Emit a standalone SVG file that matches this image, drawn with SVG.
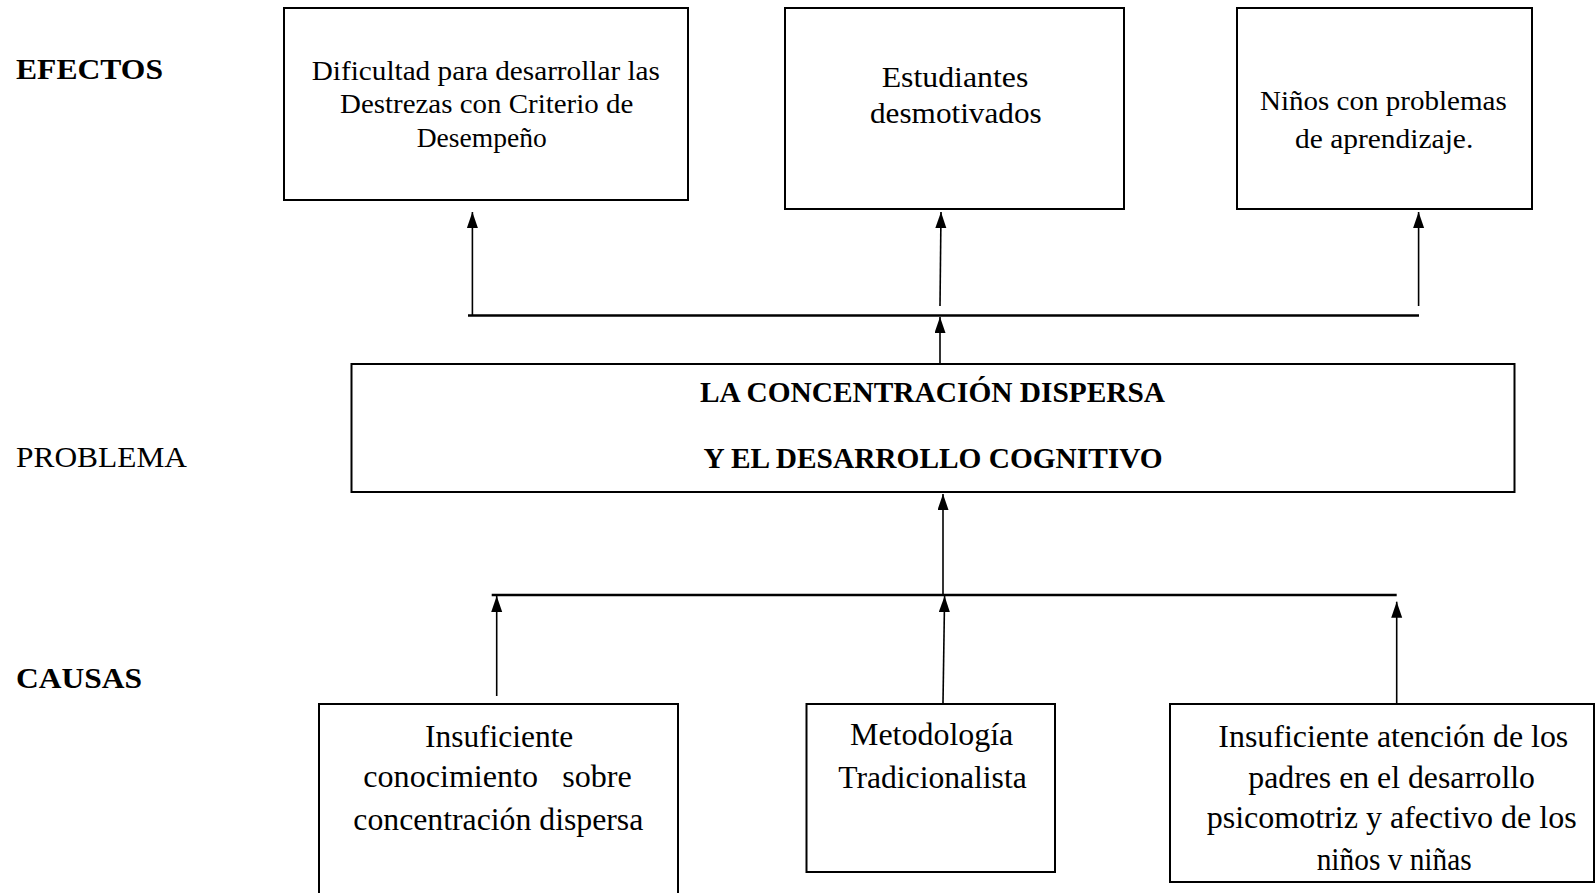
<svg xmlns="http://www.w3.org/2000/svg" width="1596" height="893" viewBox="0 0 1596 893">
<style>
  .box { fill: #fff; stroke: #000; stroke-width: 2; }
  .t { font-family: "Liberation Serif", "Times New Roman", serif; fill: #000; }
  .b { font-weight: bold; }
  .conn { stroke: #000; stroke-width: 1.6; fill: none; }
  .bar { stroke: #000; stroke-width: 2.6; fill: none; }
</style>
<defs>
  <marker id="ah" markerUnits="userSpaceOnUse" markerWidth="17" markerHeight="12" refX="16" refY="5.5" orient="auto">
    <path d="M0,0 L16,5.5 L0,11 z" fill="#000"/>
  </marker>
</defs>
<rect width="1596" height="893" fill="#fff"/>

<g id="labels">
  <text class="t b" x="16" y="79.3" font-size="29" textLength="147" lengthAdjust="spacingAndGlyphs">EFECTOS</text>
  <text class="t" x="16" y="466.7" font-size="30" textLength="171" lengthAdjust="spacingAndGlyphs">PROBLEMA</text>
  <text class="t b" x="16" y="688.3" font-size="30" textLength="126" lengthAdjust="spacingAndGlyphs">CAUSAS</text>
</g>

<g id="connectors">
  <line class="bar" x1="468" y1="315.5" x2="1419" y2="315.5"/>
  <line class="conn" x1="472.4" y1="315" x2="472.4" y2="212" marker-end="url(#ah)"/>
  <line class="conn" x1="940" y1="306" x2="941" y2="212" marker-end="url(#ah)"/>
  <line class="conn" x1="1418.6" y1="306" x2="1418.6" y2="212" marker-end="url(#ah)"/>
  <line class="conn" x1="940" y1="364" x2="940" y2="317" marker-end="url(#ah)"/>
  <line class="bar" x1="491.7" y1="595" x2="1396.7" y2="595"/>
  <line class="conn" x1="943" y1="595" x2="943" y2="494" marker-end="url(#ah)"/>
  <line class="conn" x1="496.7" y1="696" x2="496.7" y2="596" marker-end="url(#ah)"/>
  <line class="conn" x1="943" y1="703" x2="944.6" y2="596" marker-end="url(#ah)"/>
  <line class="conn" x1="1396.7" y1="703" x2="1396.7" y2="601.7" marker-end="url(#ah)"/>
</g>

<g id="efecto1">
  <rect class="box" x="284" y="8" width="404" height="192"/>
  <text class="t" x="311.7" y="80" font-size="27" textLength="348.3" lengthAdjust="spacingAndGlyphs">Dificultad para desarrollar las</text>
  <text class="t" x="340" y="113.3" font-size="27" textLength="293.3" lengthAdjust="spacingAndGlyphs">Destrezas con Criterio de</text>
  <text class="t" x="416.7" y="146.7" font-size="27" textLength="130" lengthAdjust="spacingAndGlyphs">Desempeño</text>
</g>

<g id="efecto2">
  <rect class="box" x="785" y="8" width="339" height="201"/>
  <text class="t" x="881.7" y="87.3" font-size="29" textLength="146.6" lengthAdjust="spacingAndGlyphs">Estudiantes</text>
  <text class="t" x="870" y="123.3" font-size="29" textLength="171.7" lengthAdjust="spacingAndGlyphs">desmotivados</text>
</g>

<g id="efecto3">
  <rect class="box" x="1237" y="8" width="295" height="201"/>
  <text class="t" x="1260" y="110" font-size="26.5" textLength="246.7" lengthAdjust="spacingAndGlyphs">Niños con problemas</text>
  <text class="t" x="1295" y="148.3" font-size="26.5" textLength="178.3" lengthAdjust="spacingAndGlyphs">de aprendizaje.</text>
</g>

<g id="problema">
  <rect class="box" x="351.5" y="364" width="1163" height="128"/>
  <text class="t b" x="700" y="401.7" font-size="29" textLength="465" lengthAdjust="spacingAndGlyphs">LA CONCENTRACIÓN DISPERSA</text>
  <text class="t b" x="703.5" y="468" font-size="29" textLength="459.2" lengthAdjust="spacingAndGlyphs">Y EL DESARROLLO COGNITIVO</text>
</g>

<g id="causa1">
  <rect class="box" x="319" y="704" width="359" height="200"/>
  <text class="t" x="425" y="746.7" font-size="31" textLength="148.3" lengthAdjust="spacingAndGlyphs">Insuficiente</text>
  <text class="t" x="363.3" y="786.7" font-size="31" textLength="268.4" lengthAdjust="spacingAndGlyphs" xml:space="preserve">conocimiento   sobre</text>
  <text class="t" x="353.3" y="830" font-size="31" textLength="290" lengthAdjust="spacingAndGlyphs">concentración dispersa</text>
</g>

<g id="causa2">
  <rect class="box" x="806.5" y="704" width="248.5" height="168"/>
  <text class="t" x="850" y="745" font-size="31" textLength="163.3" lengthAdjust="spacingAndGlyphs">Metodología</text>
  <text class="t" x="838.3" y="788.3" font-size="31" textLength="188.4" lengthAdjust="spacingAndGlyphs">Tradicionalista</text>
</g>

<g id="causa3">
  <rect class="box" x="1170" y="704" width="424" height="178"/>
  <text class="t" x="1218.3" y="746.7" font-size="31" textLength="350" lengthAdjust="spacingAndGlyphs">Insuficiente atención de los</text>
  <text class="t" x="1248.3" y="788.3" font-size="31" textLength="286.7" lengthAdjust="spacingAndGlyphs">padres en el desarrollo</text>
  <text class="t" x="1206.7" y="828" font-size="31" textLength="370" lengthAdjust="spacingAndGlyphs">psicomotriz y afectivo de los</text>
  <text class="t" x="1316.7" y="870" font-size="31" textLength="155" lengthAdjust="spacingAndGlyphs">niños v niñas</text>
</g>
</svg>
